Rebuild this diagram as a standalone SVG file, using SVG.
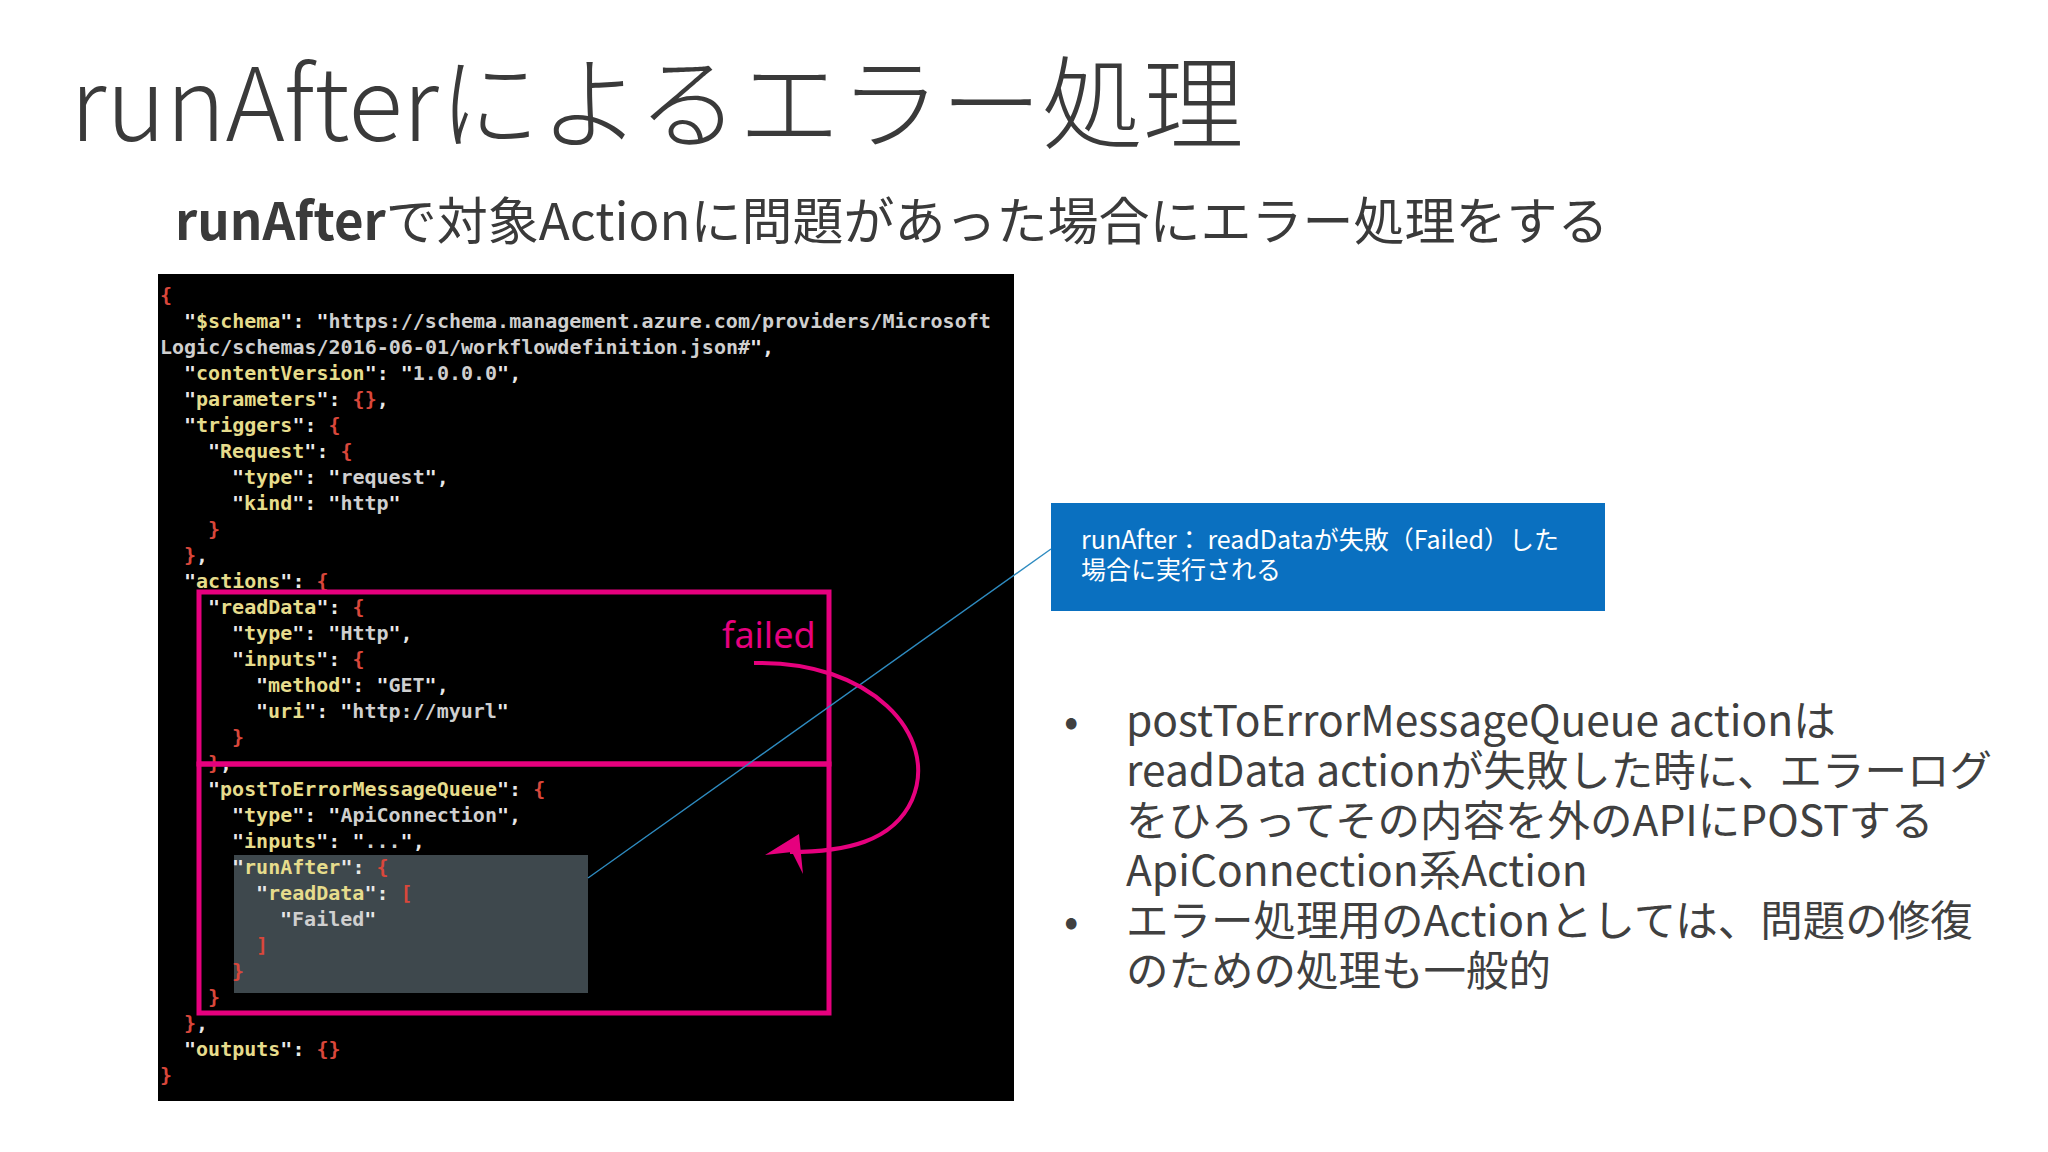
<svg xmlns="http://www.w3.org/2000/svg" width="2048" height="1152" viewBox="0 0 2048 1152">
<defs>
<style>
.t{font-family:"Noto Sans CJK JP","Noto Sans",sans-serif;fill:#3a3a3a}
.c{font-family:"DejaVu Sans Mono","Liberation Mono",monospace;font-size:20px;font-weight:bold;fill:#e8e8e8}
.k{fill:#e6dc8c}.s{fill:#cfcfcf}.b{fill:#d9473b}
.pk{fill:none;stroke:#e6007e;stroke-width:5}
.bl{font-family:"Noto Sans CJK JP","Noto Sans",sans-serif;font-size:42.5px;fill:#404040}
</style>
<clipPath id="cb"><rect x="158" y="274" width="856" height="827"/></clipPath>
</defs>
<rect width="2048" height="1152" fill="#fff"/>
<g id="title"><text class="t" x="70" y="141" font-size="101" font-weight="300">runAfterによるエラー処理</text></g>
<g id="subtitle"><text class="t" x="175" y="240" font-size="51"><tspan font-weight="bold">runAfter</tspan>で対象Actionに問題があった場合にエラー処理をする</text></g>
<g id="code">
<rect x="158" y="274" width="856" height="827" fill="#000"/>
<rect x="234" y="855" width="354" height="138" fill="#3e484d"/>
<g clip-path="url(#cb)" class="c">
<text x="160" y="302"><tspan class="b">{</tspan></text>
<text x="184" y="328">"<tspan class="k">$schema</tspan>": "<tspan class="s">https://schema.management.azure.com/providers/Microsoft</tspan></text>
<text x="160" y="354"><tspan class="s">Logic/schemas/2016-06-01/workflowdefinition.json#</tspan>",</text>
<text x="184" y="380">"<tspan class="k">contentVersion</tspan>": "<tspan class="s">1.0.0.0</tspan>",</text>
<text x="184" y="406">"<tspan class="k">parameters</tspan>": <tspan class="b">{}</tspan>,</text>
<text x="184" y="432">"<tspan class="k">triggers</tspan>": <tspan class="b">{</tspan></text>
<text x="208" y="458">"<tspan class="k">Request</tspan>": <tspan class="b">{</tspan></text>
<text x="232" y="484">"<tspan class="k">type</tspan>": "<tspan class="s">request</tspan>",</text>
<text x="232" y="510">"<tspan class="k">kind</tspan>": "<tspan class="s">http</tspan>"</text>
<text x="208" y="536"><tspan class="b">}</tspan></text>
<text x="184" y="562"><tspan class="b">}</tspan>,</text>
<text x="184" y="588">"<tspan class="k">actions</tspan>": <tspan class="b">{</tspan></text>
<text x="208" y="614">"<tspan class="k">readData</tspan>": <tspan class="b">{</tspan></text>
<text x="232" y="640">"<tspan class="k">type</tspan>": "<tspan class="s">Http</tspan>",</text>
<text x="232" y="666">"<tspan class="k">inputs</tspan>": <tspan class="b">{</tspan></text>
<text x="256" y="692">"<tspan class="k">method</tspan>": "<tspan class="s">GET</tspan>",</text>
<text x="256" y="718">"<tspan class="k">uri</tspan>": "<tspan class="s">http://myurl</tspan>"</text>
<text x="232" y="744"><tspan class="b">}</tspan></text>
<text x="208" y="770"><tspan class="b">}</tspan>,</text>
<text x="208" y="796">"<tspan class="k">postToErrorMessageQueue</tspan>": <tspan class="b">{</tspan></text>
<text x="232" y="822">"<tspan class="k">type</tspan>": "<tspan class="s">ApiConnection</tspan>",</text>
<text x="232" y="848">"<tspan class="k">inputs</tspan>": "<tspan class="s">...</tspan>",</text>
<text x="232" y="874">"<tspan class="k">runAfter</tspan>": <tspan class="b">{</tspan></text>
<text x="256" y="900">"<tspan class="k">readData</tspan>": <tspan class="b">[</tspan></text>
<text x="280" y="926">"<tspan class="s">Failed</tspan>"</text>
<text x="256" y="952"><tspan class="b">]</tspan></text>
<text x="232" y="978"><tspan class="b">}</tspan></text>
<text x="208" y="1004"><tspan class="b">}</tspan></text>
<text x="184" y="1030"><tspan class="b">}</tspan>,</text>
<text x="184" y="1056">"<tspan class="k">outputs</tspan>": <tspan class="b">{}</tspan></text>
<text x="160" y="1082"><tspan class="b">}</tspan></text>
</g>
</g>
<g id="readData-box"><rect class="pk" x="199" y="592" width="630" height="172"/></g>
<g id="postToErrorMessageQueue-box"><rect class="pk" x="199" y="764" width="630" height="249"/></g>
<g id="callout">
<rect x="1051" y="503" width="554" height="108" fill="#0a70c0"/>
<text x="1081" y="549" font-family="Noto Sans CJK JP,sans-serif" font-size="25" fill="#fff">runAfter： readDataが失敗（Failed）した</text>
<text x="1081" y="579" font-family="Noto Sans CJK JP,sans-serif" font-size="25" fill="#fff">場合に実行される</text>
</g>
<g id="connectors">
<line x1="588" y1="878" x2="1051" y2="549" stroke="#2e8bc0" stroke-width="1.4"/>
<path d="M754,663 C870,660 940,735 912,800 C893,842 845,852 790,852" fill="none" stroke="#e6007e" stroke-width="4"/>
<polygon points="765,855 799,834 803,874 792,852" fill="#e6007e"/>
<text x="722" y="648" font-family="Noto Sans,sans-serif" font-size="36" fill="#e6007e">failed</text>
</g>
<g id="bullets">
<text class="bl" x="1064" y="736">•</text>
<text class="bl" x="1126" y="736">postToErrorMessageQueue actionは</text>
<text class="bl" x="1126" y="786">readData actionが失敗した時に、エラーログ</text>
<text class="bl" x="1126" y="836">をひろってその内容を外のAPIにPOSTする</text>
<text class="bl" x="1126" y="886">ApiConnection系Action</text>
<text class="bl" x="1064" y="936">•</text>
<text class="bl" x="1126" y="936">エラー処理用のActionとしては、問題の修復</text>
<text class="bl" x="1126" y="986">のための処理も一般的</text>
</g>
</svg>
